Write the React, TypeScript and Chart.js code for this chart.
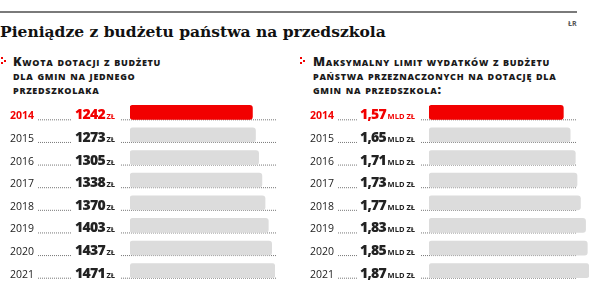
import React, { useEffect, useRef } from "react";
import { Chart, registerables } from "chart.js";

Chart.register(...registerables);

const years = ["2014", "2015", "2016", "2017", "2018", "2019", "2020", "2021"];
const subsidyPerChild = [1242, 1273, 1305, 1338, 1370, 1403, 1437, 1471];
const budgetLimitBn = [1.57, 1.65, 1.71, 1.73, 1.77, 1.83, 1.85, 1.87];
const highlightYear = "2014";

const titleText = "Pieniądze z budżetu państwa na przedszkola";
const leftSubtitle = ["Kwota dotacji z budżetu", "dla gmin na jednego", "przedszkolaka"];
const rightSubtitle = [
  "Maksymalny limit wydatków z budżetu",
  "państwa przeznaczonych na dotację dla",
  "gmin na przedszkola:",
];

const RED = "#f20000";
const GRAY = "#dcdcdc";
const SANS = "'Open Sans', 'Noto Sans', sans-serif";

const rowLabelsPlugin = {
  id: "rowLabels",
  beforeDatasetsDraw(chart: any, _args: any, opts: any) {
    const ctx = chart.ctx;
    const y = chart.scales.y;
    const barHalf = opts.barHalf;
    ctx.save();
    years.forEach((yr, i) => {
      const base = y.getPixelForValue(i) + barHalf;
      const hl = yr === highlightYear;
      const color = hl ? RED : "#222";
      // year
      ctx.font = `${hl ? "bold " : ""}10.5px ${SANS}`;
      ctx.fillStyle = color;
      ctx.textAlign = "left";
      ctx.textBaseline = "alphabetic";
      (ctx as any).letterSpacing = "0px";
      ctx.fillText(yr, opts.yearX, base);
      const yearEnd = opts.yearX + ctx.measureText(yr).width;
      // unit
      ctx.font = `bold 7.5px ${SANS}`;
      ctx.textAlign = "right";
      ctx.fillText(opts.unit, opts.unitEnd, base);
      const unitStart = opts.unitEnd - ctx.measureText(opts.unit).width;
      // value
      const val = opts.format(opts.values[i]);
      ctx.font = `800 14px ${SANS}`;
      (ctx as any).letterSpacing = "-0.7px";
      ctx.fillText(val, unitStart - 1.5, base);
      const valStart = unitStart - 1.5 - ctx.measureText(val).width;
      (ctx as any).letterSpacing = "0px";
      // dotted leaders
      ctx.strokeStyle = "#777";
      ctx.lineWidth = 1;
      ctx.setLineDash([1, 1]);
      ctx.beginPath();
      ctx.moveTo(yearEnd + 4, base + 0.5);
      ctx.lineTo(valStart - 3, base + 0.5);
      ctx.moveTo(opts.unitEnd + 6, base + 0.5);
      ctx.lineTo(opts.dotsEnd, base + 0.5);
      ctx.stroke();
    });
    ctx.restore();
  },
};

function PanelChart(props: {
  values: number[];
  max: number;
  width: number;
  padLeft: number;
  padRight: number;
  unit: string;
  format: (v: number) => string;
}) {
  const ref = useRef<HTMLCanvasElement | null>(null);
  useEffect(() => {
    if (!ref.current) return;
    const chart = new Chart(ref.current, {
      type: "bar",
      data: {
        labels: years,
        datasets: [
          {
            data: props.values,
            backgroundColor: years.map((y) => (y === highlightYear ? RED : GRAY)),
            borderRadius: 3,
            borderSkipped: false,
            barThickness: 14,
          },
        ],
      },
      options: {
        indexAxis: "y",
        animation: false,
        responsive: false,
        devicePixelRatio: 1,
        layout: { padding: { left: props.padLeft, right: props.padRight, top: 1, bottom: 4 } },
        scales: {
          x: { display: false, min: 0, max: props.max },
          y: { display: false },
        },
        plugins: {
          legend: { display: false },
          tooltip: { enabled: false },
          rowLabels: {
            barHalf: 7,
            yearX: 10,
            unitEnd: 115,
            dotsEnd: 276,
            unit: props.unit,
            values: props.values,
            format: props.format,
          },
        } as any,
      },
      plugins: [rowLabelsPlugin],
    });
    return () => chart.destroy();
  }, []);
  return (
    <canvas
      ref={ref}
      width={props.width}
      height={186}
      style={{ width: props.width, height: 186, display: "block" }}
    />
  );
}

function Marker(props: { left: number; top: number }) {
  const dots = [
    [0, 0],
    [0, 5],
    [3, 2.5],
  ];
  return (
    <>
      {dots.map(([dx, dy], i) => (
        <div
          key={i}
          style={{
            position: "absolute",
            left: props.left + dx,
            top: props.top + dy,
            width: 2,
            height: 2,
            background: RED,
          }}
        />
      ))}
    </>
  );
}

const subtitleStyle: React.CSSProperties = {
  position: "absolute",
  top: 55,
  fontFamily: SANS,
  fontWeight: 800,
  fontVariant: "small-caps",
  fontSize: 12.5,
  letterSpacing: "0.7px",
  lineHeight: "14px",
  color: "#1a1a1a",
  whiteSpace: "nowrap",
};

export default function App() {
  return (
    <div
      style={{
        position: "fixed",
        left: 0,
        top: 0,
        width: 604,
        height: 286,
        background: "#fff",
        overflow: "hidden",
      }}
    >
      <div style={{ position: "absolute", left: 0, top: 11, width: 577, height: 2, background: "#7a7a7a" }} />
      <div
        style={{
          position: "absolute",
          left: 0,
          top: 23,
          fontFamily: "'DejaVu Serif', serif",
          fontWeight: "bold",
          fontSize: 15.5,
          lineHeight: "18px",
          color: "#111",
          whiteSpace: "nowrap",
        }}
      >
        {titleText}
      </div>
      <div
        style={{
          position: "absolute",
          left: 568,
          top: 19,
          fontFamily: SANS,
          fontWeight: "bold",
          fontSize: 7,
          color: "#555",
        }}
      >
        ŁR
      </div>
      <Marker left={1} top={57} />
      <div style={{ ...subtitleStyle, left: 13 }}>
        {leftSubtitle.map((l, i) => (
          <div key={i}>{l}</div>
        ))}
      </div>
      <Marker left={300} top={57} />
      <div style={{ ...subtitleStyle, left: 313 }}>
        {rightSubtitle.map((l, i) => (
          <div key={i}>{l}</div>
        ))}
      </div>
      <div style={{ position: "absolute", left: 0, top: 100 }}>
        <PanelChart
          values={subsidyPerChild}
          max={1471}
          width={300}
          padLeft={130}
          padRight={25}
          unit="ZŁ"
          format={(v) => String(v)}
        />
      </div>
      <div style={{ position: "absolute", left: 300, top: 100 }}>
        <PanelChart
          values={budgetLimitBn}
          max={1.87}
          width={304}
          padLeft={129}
          padRight={15}
          unit="MLD ZŁ"
          format={(v) => v.toFixed(2).replace(".", ",")}
        />
      </div>
    </div>
  );
}
